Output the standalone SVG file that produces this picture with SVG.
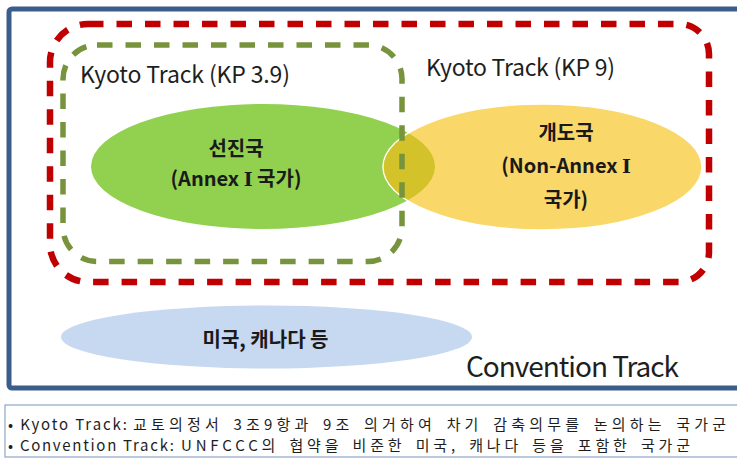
<svg xmlns="http://www.w3.org/2000/svg" width="737" height="462" viewBox="0 0 737 462">
  <defs>
    <style>
      .lbl { font-family: "Noto Sans CJK KR", "Noto Sans", sans-serif; fill: #1e1e1e; }
      .bold { font-family: "Noto Sans CJK KR", "Noto Sans", sans-serif; font-weight: bold; fill: #1a1a1a; font-size: 20px; text-anchor: middle; }
      .rn { font-family: "DejaVu Serif", "Liberation Serif", "Noto Sans CJK KR", serif; font-weight: bold; font-size: 19px; }
      .note { font-family: "Noto Sans CJK KR", "Noto Sans", sans-serif; fill: #1e1e1e; font-size: 15px; }
      .ko { word-spacing: 3px; }
      .dash { fill: none; stroke-dasharray: 15.5 13; }
    </style>
    <clipPath id="clipGreen">
      <ellipse cx="263" cy="166.5" rx="172" ry="62.5"/>
    </clipPath>
  </defs>
  <rect x="0" y="0" width="737" height="462" fill="#ffffff"/>

  <g id="convention-frame">
    <rect x="9" y="9" width="740" height="379" rx="3" fill="#ffffff" stroke="#3b5d8c" stroke-width="5"/>
    <text class="lbl" x="466" y="377" font-size="28" textLength="213">Convention Track</text>
  </g>

  <g id="us-canada">
    <ellipse cx="266.5" cy="337" rx="205.5" ry="31.5" fill="#c6d9f0"/>
    <text class="bold" x="265.5" y="347">미국, 캐나다 등</text>
  </g>

  <g id="developed">
    <ellipse cx="263" cy="166.5" rx="172" ry="62.5" fill="#92d050"/>
  </g>

  <g id="developing">
    <ellipse cx="542.5" cy="167" rx="159.5" ry="63" fill="#f9d869" stroke="#ffffff" stroke-width="1.5"/>
    <ellipse cx="542.5" cy="167" rx="158.8" ry="62.3" fill="#d3c229" clip-path="url(#clipGreen)"/>
    <text class="bold" x="566" y="140">개도국</text>
    <text class="bold" x="566" y="173">(Non-Annex <tspan class="rn">Ⅰ</tspan></text>
    <text class="bold" x="566" y="207">국가)</text>
  </g>

  <g id="developed-labels">
    <text class="bold" x="236" y="156">선진국</text>
    <text class="bold" x="236" y="186">(Annex <tspan class="rn">Ⅰ</tspan> 국가)</text>
  </g>

  <g id="kyoto-kp9">
    <path class="dash" d="M 88 24 H 679 A 30 30 0 0 1 709 54 V 252 A 30 30 0 0 1 679 282 H 88 A 38 38 0 0 1 50 244 V 62 A 38 38 0 0 1 88 24 Z" stroke="#c00000" stroke-width="6.5"/>
    <text class="lbl" x="426" y="76" font-size="23" textLength="189">Kyoto Track (KP 9)</text>
  </g>

  <g id="kyoto-kp39">
    <rect class="dash" x="63" y="45" width="339" height="216.5" rx="34" stroke="#77933c" stroke-width="5.5"/>
    <text class="lbl" x="80" y="83" font-size="23" textLength="210">Kyoto Track (KP 3.9)</text>
  </g>

  <g id="connectors"></g>

  <g id="notes">
    <rect x="5" y="405" width="740" height="52" fill="#ffffff" stroke="#8ea6c8" stroke-width="1.2"/>
    <text class="note" x="8" y="430"><tspan textLength="119">• Kyoto Track:</tspan><tspan class="ko" x="133" textLength="593">교토의정서 3조9항과 9조 의거하여 차기 감축의무를 논의하는 국가군</tspan></text>
    <text class="note" x="8" y="451"><tspan textLength="166">• Convention Track:</tspan><tspan class="ko" x="181" textLength="509">UNFCCC의 협약을 비준한 미국, 캐나다 등을 포함한 국가군</tspan></text>
  </g>
</svg>
